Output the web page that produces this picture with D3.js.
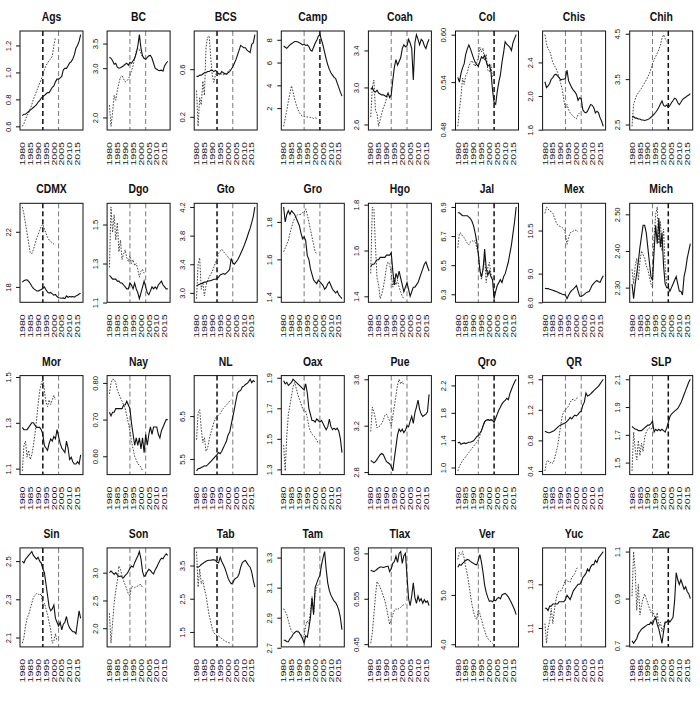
<!DOCTYPE html>
<html><head><meta charset="utf-8">
<script src="https://cdn.jsdelivr.net/npm/d3@7"></script>
<style>body{margin:0;background:#fff}svg{display:block}</style>
</head><body><svg id="c" width="700" height="701"></svg>
<script>
const years = [1980,1981,1982,1983,1984,1985,1986,1987,1988,1989,1990,1991,1992,1993,1994,1995,1996,1997,1998,1999,2000,2001,2002,2003,2004,2005,2006,2007,2008,2009,2010,2011,2012,2013,2014,2015,2016,2017];
const xTickYears = [1980,1985,1990,1995,2000,2005,2010,2015];
const vlineYears = [1993, 2003];
const states = ["Ags","BC","BCS","Camp","Coah","Col","Chis","Chih","CDMX","Dgo","Gto","Gro","Hgo","Jal","Mex","Mich","Mor","Nay","NL","Oax","Pue","Qro","QR","SLP","Sin","Son","Tab","Tam","Tlax","Ver","Yuc","Zac"];
const emphasizedYear = [1993,0,1993,2003,0,2003,0,2003, 1993,0,1993,0,0,2003,0,2003, 1993,0,1993,0,0,2003,0,2003, 1993,0,1993,0,0,2003,0,2003];

const Ags_obs = [0.68,0.69,0.69,0.70,0.71,0.72,0.73,0.74,0.75,0.76, 0.78,0.79,0.81,0.82,0.83,0.84,0.85,0.85,0.87,0.89, 0.90,0.93,0.95,0.95,0.96,0.97,1.02,1.03,1.03,1.05, 1.07,1.08,1.10,1.13,1.18,1.20,1.23,1.28];
const Ags_syn = [0.60,0.62,0.65,0.68,0.70,0.73,0.76,0.80,0.83,0.86, 0.89,0.92,0.95,0.98,1.02,1.05,1.07,1.09,1.10,1.12, 1.20,1.26];
const Ags_ticks = ["0.6","0.8","1.0","1.2"];

const BC_obs = [3.22,3.20,3.15,3.08,3.10,3.02,3.00,3.01,3.03,3.05, 3.08,3.10,3.06,3.12,3.10,3.15,3.20,3.30,3.45,3.68, 3.40,3.25,3.20,3.18,3.22,3.25,3.26,3.20,3.10,3.00, 2.98,2.96,2.95,2.96,2.94,3.05,3.10,3.14];
const BC_syn = [2.25,1.82,2.10,2.45,2.35,2.55,2.70,2.82,2.85,2.78, 2.72,2.74,2.78,2.85,2.95,3.05,3.20,3.35,3.40,3.38, 3.30,3.22,3.20];
const BC_ticks = ["2.0","3.0","3.5"];

const BCS_obs = [0.54,0.54,0.55,0.55,0.56,0.57,0.57,0.58,0.58,0.59, 0.59,0.58,0.59,0.58,0.56,0.56,0.58,0.57,0.56,0.56, 0.57,0.58,0.60,0.62,0.65,0.68,0.72,0.76,0.80,0.79, 0.78,0.78,0.76,0.75,0.74,0.81,0.82,0.89];
const BCS_syn = [0.42,0.12,0.36,0.30,0.50,0.38,0.78,0.87,0.88,0.70, 0.55,0.49,0.55,0.58,0.57,0.55,0.56,0.55,0.57,0.55, 0.58,0.60];
const BCS_ticks = ["0.2","0.6"];

const Camp_obs = [7.45,7.35,7.25,7.40,7.55,7.65,7.75,7.85,7.85,7.80, 7.75,7.65,7.55,7.60,7.50,7.55,7.40,7.10,7.00,7.35, 7.70,7.95,8.30,8.45,8.00,7.50,6.90,6.30,5.80,5.40, 5.10,4.90,4.70,4.60,4.20,3.80,3.40,3.05];
const Camp_syn = [0.40,1.10,1.80,2.60,3.30,3.95,3.40,2.80,2.30,1.90, 1.60,1.40,1.30,1.25,1.25,1.22,1.20,1.18,1.15,1.10, 1.15,1.10];
const Camp_ticks = ["2","4","6","8"];

const Coah_obs = [2.98,3.00,2.96,2.95,2.97,2.94,2.93,2.92,2.92,2.91, 2.90,2.94,2.89,2.92,3.08,3.22,3.30,3.24,3.28,3.32, 3.42,3.46,3.44,3.45,3.52,3.48,3.42,3.08,3.48,3.57, 3.52,3.46,3.52,3.50,3.45,3.42,3.48,3.52];
const Coah_syn = [2.68,3.00,3.08,2.75,2.72,2.58,2.65,2.72,2.78,2.82, 2.88,2.93,2.90,2.92];
const Coah_ticks = ["2.6","3.0","3.4"];

const Col_obs = [0.546,0.540,0.551,0.558,0.563,0.575,0.582,0.587,0.582,0.576, 0.570,0.565,0.562,0.560,0.566,0.572,0.570,0.574,0.566,0.560, 0.562,0.553,0.530,0.514,0.512,0.528,0.540,0.549,0.565,0.577, 0.591,0.588,0.586,0.584,0.580,0.590,0.595,0.600];
const Col_syn = [0.484,0.505,0.522,0.545,0.537,0.548,0.552,0.560,0.565,0.567, 0.563,0.560,0.565,0.570,0.584,0.578,0.583,0.567,0.575,0.555, 0.553,0.562,0.545];
const Col_ticks = ["0.48","0.54","0.60"];

const Chis_obs = [2.17,2.10,2.12,2.15,2.20,2.22,2.25,2.26,2.24,2.22, 2.19,2.20,2.20,2.21,2.31,2.18,2.14,2.10,2.07,2.05, 2.02,1.95,1.98,1.97,1.84,1.81,1.80,1.82,1.86,1.90, 1.89,1.86,1.80,1.82,1.80,1.74,1.70,1.64];
const Chis_syn = [2.73,2.62,2.56,2.54,2.47,2.40,2.36,2.33,2.28,2.22, 2.15,2.08,1.95,1.85,1.90,1.84,1.80,1.78,1.76,1.74, 1.73,1.78,1.80];
const Chis_ticks = ["1.6","2.0","2.4"];

const Chih_obs = [2.66,2.68,2.64,2.64,2.62,2.62,2.60,2.60,2.59,2.60, 2.61,2.63,2.66,2.69,2.73,2.77,2.82,2.88,2.95,3.02, 2.92,2.90,2.93,2.88,2.92,2.98,3.03,3.08,3.06,2.98, 2.94,2.99,3.05,3.08,3.10,3.13,3.15,3.18];
const Chih_syn = [2.46,2.95,3.05,3.15,3.20,3.25,3.30,3.36,3.42,3.48, 3.55,3.62,3.72,3.85,3.93,4.00,4.07,4.15,4.25,4.40, 4.48,4.40,4.33];
const Chih_ticks = ["2.5","3.5","4.5"];

const CDMX_obs = [18.35,18.45,18.50,18.52,18.40,18.25,18.05,17.90,17.80,17.72, 17.70,17.76,17.82,17.88,18.00,17.80,17.62,17.55,17.60,17.50, 17.40,17.45,17.30,17.22,17.20,17.18,17.20,17.15,17.35,17.25, 17.30,17.28,17.30,17.26,17.35,17.40,17.48,17.55];
const CDMX_syn = [23.80,23.30,22.60,21.90,21.20,20.50,20.40,20.70,21.10,21.50, 21.80,22.10,22.40,22.55,22.20,21.90,21.60,21.40,21.30,21.20, 21.10,21.05];
const CDMX_ticks = ["18","22"];

const Dgo_obs = [1.24,1.23,1.22,1.22,1.22,1.21,1.21,1.20,1.20,1.19, 1.18,1.17,1.17,1.20,1.19,1.17,1.20,1.17,1.15,1.12, 1.15,1.18,1.21,1.18,1.15,1.14,1.16,1.18,1.17,1.18, 1.17,1.19,1.20,1.21,1.19,1.18,1.17,1.17];
const Dgo_syn = [1.28,1.59,1.46,1.55,1.42,1.51,1.36,1.42,1.32,1.35, 1.37,1.33,1.31,1.34,1.30,1.32,1.29,1.30,1.27,1.23, 1.26,1.27,1.25];
const Dgo_ticks = ["1.1","1.3","1.5"];

const Gto_obs = [3.10,3.11,3.12,3.13,3.14,3.15,3.15,3.16,3.17,3.17, 3.18,3.19,3.19,3.20,3.22,3.25,3.26,3.27,3.26,3.28, 3.30,3.33,3.48,3.42,3.40,3.43,3.46,3.50,3.55,3.60, 3.65,3.71,3.77,3.84,3.90,3.98,4.07,4.20];
const Gto_syn = [2.92,3.40,3.49,3.05,3.15,2.96,3.10,3.18,3.22,3.26, 3.30,3.36,3.42,3.48,3.55,3.58,3.61,3.58,3.55,3.53, 3.50,3.47,3.45];
const Gto_ticks = ["3.0","3.4","3.8","4.2"];

const Gro_obs = [1.88,1.80,1.84,1.86,1.84,1.86,1.85,1.84,1.82,1.80, 1.78,1.74,1.71,1.72,1.70,1.62,1.60,1.55,1.52,1.49, 1.48,1.47,1.49,1.48,1.47,1.46,1.44,1.45,1.47,1.48, 1.46,1.44,1.43,1.42,1.43,1.41,1.40,1.39];
const Gro_syn = [1.64,1.66,1.68,1.70,1.74,1.77,1.80,1.82,1.83,1.84, 1.84,1.84,1.85,1.85,1.87,1.84,1.80,1.76,1.72,1.68, 1.64,1.63];
const Gro_ticks = ["1.4","1.6","1.8"];

const Hgo_obs = [1.53,1.54,1.54,1.55,1.56,1.56,1.57,1.57,1.57,1.57, 1.58,1.58,1.58,1.59,1.51,1.45,1.50,1.48,1.51,1.48, 1.45,1.42,1.44,1.46,1.43,1.40,1.42,1.44,1.44,1.45, 1.46,1.48,1.50,1.52,1.54,1.55,1.53,1.51];
const Hgo_syn = [1.50,1.79,1.78,1.62,1.48,1.45,1.39,1.41,1.44,1.48, 1.53,1.55,1.54,1.50,1.44,1.48,1.45,1.47,1.44,1.42, 1.40,1.39];
const Hgo_ticks = ["1.4","1.6","1.8"];

const Jal_obs = [6.86,6.86,6.85,6.84,6.84,6.84,6.84,6.83,6.82,6.80, 6.77,6.72,6.66,6.58,6.46,6.42,6.47,6.61,6.48,6.43, 6.46,6.42,6.40,6.27,6.32,6.36,6.38,6.40,6.38,6.42, 6.44,6.48,6.52,6.58,6.64,6.72,6.80,6.90];
const Jal_syn = [6.62,6.72,6.72,6.70,6.69,6.67,6.65,6.64,6.66,6.67, 6.66,6.67,6.62,6.58,6.48,6.40,6.48,6.55,6.38,6.48, 6.52,6.44,6.40];
const Jal_ticks = ["6.3","6.5","6.7","6.9"];

const Mex_obs = [8.49,8.48,8.48,8.46,8.44,8.42,8.40,8.38,8.36,8.33, 8.31,8.28,8.27,8.26,8.13,8.25,8.35,8.42,8.46,8.52, 8.58,8.40,8.22,8.21,8.24,8.28,8.33,8.36,8.38,8.48, 8.60,8.66,8.72,8.76,8.72,8.70,8.82,8.93];
const Mex_syn = [11.10,11.32,11.25,11.18,11.16,11.10,10.95,10.80,10.70,10.66, 10.63,10.60,10.55,10.40,10.02,10.25,10.42,10.45,10.48,10.52, 10.50,10.45];
const Mex_ticks = ["8.0","9.0","10.5"];

const Mich_obs = [2.31,2.27,2.31,2.34,2.37,2.41,2.44,2.47,2.47,2.45, 2.41,2.37,2.33,2.32,2.40,2.47,2.42,2.49,2.41,2.45, 2.36,2.31,2.30,2.30,2.29,2.30,2.31,2.32,2.33,2.31, 2.29,2.29,2.28,2.33,2.35,2.38,2.40,2.42];
const Mich_syn = [2.35,2.31,2.36,2.38,2.32,2.37,2.40,2.39,2.38,2.36, 2.35,2.33,2.31,2.30,2.44,2.50,2.52,2.42,2.48,2.40, 2.46,2.36,2.31];
const Mich_ticks = ["2.30","2.40","2.50"];

const Mor_obs = [1.28,1.27,1.27,1.27,1.28,1.29,1.30,1.30,1.29,1.28, 1.28,1.28,1.27,1.25,1.20,1.19,1.18,1.21,1.23,1.22, 1.24,1.23,1.27,1.24,1.21,1.19,1.18,1.17,1.22,1.19, 1.14,1.15,1.13,1.12,1.12,1.13,1.12,1.16];
const Mor_syn = [1.09,1.20,1.22,1.15,1.18,1.14,1.16,1.20,1.25,1.31, 1.38,1.44,1.47,1.49,1.44,1.39,1.37,1.40,1.38,1.40, 1.42,1.40];
const Mor_ticks = ["1.1","1.3","1.5"];

const Nay_obs = [0.72,0.71,0.72,0.72,0.73,0.73,0.73,0.73,0.73,0.74, 0.74,0.75,0.74,0.73,0.69,0.66,0.63,0.65,0.63,0.65, 0.62,0.65,0.61,0.66,0.63,0.66,0.68,0.66,0.68,0.68, 0.68,0.66,0.65,0.67,0.68,0.69,0.70,0.70];
const Nay_syn = [0.77,0.80,0.81,0.81,0.80,0.78,0.77,0.76,0.75,0.74, 0.73,0.71,0.69,0.67,0.64,0.62,0.60,0.59,0.58,0.575, 0.57,0.56];
const Nay_ticks = ["0.60","0.70","0.80"];

const NL_obs = [5.22,5.27,5.28,5.30,5.32,5.34,5.33,5.36,5.40,5.44, 5.48,5.52,5.56,5.60,5.65,5.62,5.68,5.76,5.84,5.92, 6.06,6.12,6.30,6.48,6.66,6.86,7.04,7.08,7.10,7.18, 7.20,7.24,7.26,7.30,7.36,7.28,7.33,7.30];
const NL_syn = [5.95,6.58,6.65,6.20,5.88,6.00,5.68,5.75,5.95,6.10, 6.22,6.35,6.44,6.50,6.52,6.56,6.62,6.68,6.72,6.76, 6.80,6.85,6.88];
const NL_ticks = ["5.5","6.5"];

const Oax_obs = [1.88,1.86,1.87,1.85,1.86,1.87,1.89,1.88,1.87,1.86, 1.85,1.84,1.83,1.82,1.86,1.80,1.70,1.66,1.62,1.62, 1.61,1.63,1.62,1.61,1.62,1.60,1.58,1.56,1.58,1.63, 1.58,1.56,1.57,1.56,1.57,1.55,1.50,1.41];
const Oax_syn = [1.46,1.29,1.52,1.66,1.72,1.78,1.84,1.87,1.83,1.79, 1.76,1.73,1.70,1.68,1.68,1.64,1.58,1.55,1.53,1.52, 1.51,1.49,1.47];
const Oax_ticks = ["1.3","1.5","1.7","1.9"];

const Pue_obs = [2.90,2.89,2.88,2.89,2.91,2.93,2.95,2.96,2.95,2.92, 2.89,2.88,2.87,2.85,2.81,2.92,3.02,3.12,3.17,3.15, 3.17,3.14,3.16,3.20,3.19,3.24,3.28,3.22,3.31,3.36, 3.42,3.34,3.30,3.28,3.29,3.30,3.32,3.47];
const Pue_syn = [3.15,3.36,3.32,3.26,3.18,3.19,3.20,3.22,3.25,3.29, 3.30,3.27,3.24,3.20,3.28,3.37,3.46,3.55,3.60,3.56, 3.58,3.55];
const Pue_ticks = ["2.8","3.2","3.6"];

const Qro_obs = [1.36,1.37,1.34,1.35,1.36,1.35,1.36,1.37,1.37,1.38, 1.39,1.42,1.45,1.47,1.50,1.54,1.61,1.67,1.69,1.70, 1.69,1.70,1.69,1.66,1.72,1.78,1.84,1.88,1.93,1.96, 1.98,2.01,1.99,2.08,2.14,2.20,2.25,2.29];
const Qro_syn = [0.95,1.02,1.06,1.10,1.13,1.16,1.19,1.22,1.25,1.28, 1.31,1.34,1.37,1.40,1.47,1.54,1.60,1.66,1.69,1.70, 1.70,1.69,1.69];
const Qro_ticks = ["1.0","1.4","1.8","2.2"];

const QR_obs = [0.92,0.91,0.90,0.90,0.91,0.92,0.93,0.95,0.97,0.99, 1.00,1.01,1.02,1.03,1.05,1.07,1.10,1.08,1.11,1.13, 1.12,1.14,1.17,1.18,1.26,1.30,1.42,1.38,1.39,1.41, 1.43,1.45,1.47,1.49,1.51,1.54,1.57,1.60];
const QR_syn = [0.40,0.52,0.54,0.50,0.52,0.50,0.55,0.64,0.72,0.85, 1.00,1.12,1.18,1.20,1.22,1.25,1.30,1.33,1.34,1.32, 1.35,1.36];
const QR_ticks = ["0.4","0.8","1.2","1.6"];

const SLP_obs = [1.76,1.75,1.74,1.74,1.73,1.73,1.73,1.74,1.75,1.76, 1.77,1.77,1.78,1.80,1.72,1.74,1.73,1.74,1.73,1.74, 1.73,1.72,1.75,1.79,1.83,1.85,1.86,1.87,1.88,1.89, 1.91,1.93,1.96,1.99,2.02,2.05,2.08,2.10];
const SLP_syn = [1.44,1.72,1.60,1.52,1.66,1.55,1.64,1.58,1.68,1.72, 1.74,1.75,1.74,1.76];
const SLP_ticks = ["1.5","1.7","1.9","2.1"];

const Sin_obs = [2.50,2.49,2.51,2.52,2.53,2.54,2.55,2.53,2.52,2.51, 2.52,2.50,2.49,2.46,2.44,2.38,2.32,2.26,2.24,2.25, 2.27,2.20,2.18,2.16,2.18,2.14,2.17,2.18,2.21,2.17, 2.15,2.14,2.13,2.13,2.12,2.18,2.24,2.20];
const Sin_syn = [2.07,2.10,2.16,2.20,2.22,2.25,2.28,2.31,2.32,2.33, 2.33,2.32,2.33,2.26,2.28,2.25,2.22,2.18,2.14,2.07, 2.08,2.12,2.08];
const Sin_ticks = ["2.1","2.3","2.5"];

const Son_obs = [3.00,3.03,3.00,2.97,3.00,2.96,2.93,2.94,2.92,2.91, 2.95,2.98,3.02,3.08,3.12,3.10,3.18,3.24,3.30,3.38, 3.25,3.02,2.93,2.96,3.02,3.06,3.04,3.00,2.98,3.05, 3.10,3.16,3.22,3.26,3.25,3.30,3.34,3.31];
const Son_syn = [2.27,1.73,2.10,2.45,2.67,2.85,3.12,3.06,2.94,2.85, 2.78,2.70,2.62,2.58,2.76,2.74,2.73,2.75,2.76,2.78, 2.79,2.73];
const Son_ticks = ["2.0","2.5","3.0"];

const Tab_obs = [3.47,3.45,3.48,3.53,3.56,3.60,3.63,3.65,3.66,3.66, 3.67,3.67,3.66,3.60,3.58,3.75,3.62,3.52,3.42,3.28, 3.12,3.02,2.95,2.98,3.08,3.12,3.15,3.25,3.45,3.58, 3.63,3.65,3.58,3.50,3.45,3.30,3.05,2.85];
const Tab_syn = [3.92,2.85,3.40,2.95,3.05,2.80,2.60,2.30,2.00,1.80, 1.60,1.48,1.42,1.38,1.38,1.34,1.30,1.26,1.23,1.20, 1.18,1.17,1.16];
const Tab_ticks = ["1.5","2.5","3.5"];

const Tam_obs = [2.75,2.75,2.74,2.74,2.76,2.77,2.79,2.80,2.81,2.81, 2.80,2.78,2.76,2.73,2.78,2.77,2.83,2.90,3.03,2.92, 3.10,3.13,3.16,3.18,3.25,3.30,3.34,3.22,3.13,3.08, 3.05,3.03,3.01,3.00,2.98,2.95,2.90,2.82];
const Tam_syn = [2.96,2.94,2.92,2.88,2.84,2.81,2.80,2.80,2.81,2.80, 2.80,2.79,2.77,2.78,2.85,2.88,2.86,2.94,3.04,2.93, 3.06,3.10,3.12];
const Tam_ticks = ["2.7","2.9","3.1","3.3"];

const Tlax_obs = [0.613,0.611,0.610,0.612,0.615,0.618,0.620,0.620,0.619,0.620, 0.621,0.622,0.610,0.616,0.628,0.632,0.644,0.630,0.650,0.654, 0.628,0.645,0.650,0.600,0.550,0.535,0.556,0.585,0.553,0.540, 0.556,0.545,0.550,0.540,0.548,0.542,0.545,0.535];
const Tlax_syn = [0.452,0.475,0.515,0.556,0.588,0.582,0.575,0.566,0.556,0.545, 0.530,0.512,0.494,0.505,0.515,0.525,0.528,0.526,0.529,0.531, 0.535,0.537,0.539];
const Tlax_ticks = ["0.45","0.55","0.65"];

const Ver_obs = [5.56,5.62,5.60,5.64,5.67,5.70,5.72,5.71,5.68,5.66, 5.64,5.62,5.61,5.70,5.82,5.66,5.45,5.20,5.05,4.95, 4.87,4.88,4.86,4.90,4.88,4.93,4.95,4.92,5.00,5.02, 5.03,5.00,4.96,4.90,4.84,4.77,4.70,4.60];
const Ver_syn = [5.72,5.86,5.82,5.88,5.75,5.56,5.42,5.22,5.00,4.80, 4.65,4.55,4.50,4.70,4.62,4.50,4.38,4.28,4.18,4.12, 4.08,4.05,4.02];
const Ver_ticks = ["4.0","5.0"];

const Yuc_obs = [1.19,1.19,1.18,1.20,1.20,1.21,1.21,1.21,1.21,1.22, 1.22,1.22,1.22,1.23,1.25,1.24,1.23,1.25,1.27,1.28, 1.29,1.30,1.30,1.31,1.33,1.34,1.35,1.37,1.36,1.38, 1.39,1.39,1.41,1.40,1.42,1.43,1.44,1.45];
const Yuc_syn = [1.12,1.03,1.10,1.13,1.19,1.12,1.18,1.23,1.26,1.27, 1.27,1.28,1.30,1.32,1.32,1.31,1.31,1.33,1.34,1.35, 1.37,1.38];
const Yuc_ticks = ["1.1","1.3"];

const Zac_obs = [0.72,0.71,0.72,0.73,0.75,0.76,0.77,0.775,0.78,0.785, 0.79,0.79,0.80,0.79,0.81,0.82,0.79,0.77,0.74,0.71, 0.76,0.80,0.80,0.81,0.80,0.81,0.82,0.89,1.01,0.98, 0.96,0.98,0.96,0.94,0.95,0.93,0.92,0.90];
const Zac_syn = [0.91,1.10,1.02,0.85,0.96,0.83,0.87,0.90,0.92,0.90, 0.88,0.86,0.84,0.85,0.83,0.81,0.84,0.78,0.80,0.76, 0.78,0.80];
const Zac_ticks = ["0.7","0.9","1.1"];

const observed = [Ags_obs,BC_obs,BCS_obs,Camp_obs,Coah_obs,Col_obs,Chis_obs,Chih_obs,CDMX_obs,Dgo_obs,Gto_obs,Gro_obs,Hgo_obs,Jal_obs,Mex_obs,Mich_obs,Mor_obs,Nay_obs,NL_obs,Oax_obs,Pue_obs,Qro_obs,QR_obs,SLP_obs,Sin_obs,Son_obs,Tab_obs,Tam_obs,Tlax_obs,Ver_obs,Yuc_obs,Zac_obs];
const synthetic = [Ags_syn,BC_syn,BCS_syn,Camp_syn,Coah_syn,Col_syn,Chis_syn,Chih_syn,CDMX_syn,Dgo_syn,Gto_syn,Gro_syn,Hgo_syn,Jal_syn,Mex_syn,Mich_syn,Mor_syn,Nay_syn,NL_syn,Oax_syn,Pue_syn,Qro_syn,QR_syn,SLP_syn,Sin_syn,Son_syn,Tab_syn,Tam_syn,Tlax_syn,Ver_syn,Yuc_syn,Zac_syn];
const yTicks = [Ags_ticks,BC_ticks,BCS_ticks,Camp_ticks,Coah_ticks,Col_ticks,Chis_ticks,Chih_ticks,CDMX_ticks,Dgo_ticks,Gto_ticks,Gro_ticks,Hgo_ticks,Jal_ticks,Mex_ticks,Mich_ticks,Mor_ticks,Nay_ticks,NL_ticks,Oax_ticks,Pue_ticks,Qro_ticks,QR_ticks,SLP_ticks,Sin_ticks,Son_ticks,Tab_ticks,Tam_ticks,Tlax_ticks,Ver_ticks,Yuc_ticks,Zac_ticks];

// ---- layout ----
const colStep = 87.1, left0 = 20, pw = 63, top0 = 31, rowStep = 172.3, ph = 99;
const svg = d3.select("#c");
svg.append("rect").attr("width",700).attr("height",701).attr("fill","#fff");
const font = "'Liberation Sans', Arial, Helvetica, sans-serif";

states.forEach((name, i) => {
  const c = i % 8, r = Math.floor(i / 8);
  const gx = left0 + c * colStep, gy = top0 + r * rowStep;
  const g = svg.append("g").attr("transform", `translate(${gx},${gy})`);
  const obs = observed[i], syn = synthetic[i];
  const all = obs.concat(syn);
  const lo = d3.min(all), hi = d3.max(all), pad = (hi - lo) * 0.04;
  const y = d3.scaleLinear().domain([lo - pad, hi + pad]).range([ph, 0]);
  const xpad = (years[years.length-1] - years[0]) * 0.04;
  const x = d3.scaleLinear().domain([years[0] - xpad, years[years.length-1] + xpad]).range([0, pw]);

  vlineYears.forEach(yr => {
    const bold = emphasizedYear[i] === yr;
    g.append("line").attr("x1", x(yr)).attr("x2", x(yr)).attr("y1", 0).attr("y2", ph)
      .attr("stroke", bold ? "#111" : "#555")
      .attr("stroke-width", bold ? 1.5 : 0.8)
      .attr("stroke-dasharray", "5,3");
  });

  const line = d3.line().x((d, j) => x(years[j])).y(d => y(d));
  g.append("path").datum(syn).attr("d", line).attr("fill", "none")
    .attr("stroke", "#444").attr("stroke-width", 1).attr("stroke-dasharray", "1.6,1.4");
  g.append("path").datum(obs).attr("d", line).attr("fill", "none")
    .attr("stroke", "#111").attr("stroke-width", 1.1);

  g.append("rect").attr("x", 0).attr("y", 0).attr("width", pw).attr("height", ph)
    .attr("fill", "none").attr("stroke", "#111").attr("stroke-width", 1);

  const tv = yTicks[i];
  const yAxis = d3.axisLeft(y).tickValues(tv.map(Number)).tickSize(4)
    .tickFormat((d, k) => tv[k]);
  const ya = g.append("g").call(yAxis);
  ya.select(".domain").remove();
  ya.selectAll("line").attr("stroke", "#111");
  ya.selectAll("text")
    .attr("x", null).attr("dy", null)
    .attr("transform", "translate(-9.5,0) rotate(-90)")
    .attr("text-anchor", "middle")
    .attr("font-family", font).attr("font-size", 7.6).attr("fill", "#111");

  const xa = g.append("g");
  xa.selectAll("text").data(xTickYears).join("text")
    .attr("transform", d => `translate(${x(d)},${ph + 12}) scale(0.72,1) rotate(-90)`)
    .attr("text-anchor", "end").attr("dy", "0.35em")
    .attr("font-family", font).attr("font-size", 10.6).attr("fill", "#111")
    .text(d => d);

  g.append("text").attr("transform", `translate(${pw/2},${-10}) scale(0.8,1)`)
    .attr("text-anchor", "middle").attr("font-family", font)
    .attr("font-weight", "bold").attr("font-size", 13).attr("fill", "#111")
    .text(name);
});
</script></body></html>
